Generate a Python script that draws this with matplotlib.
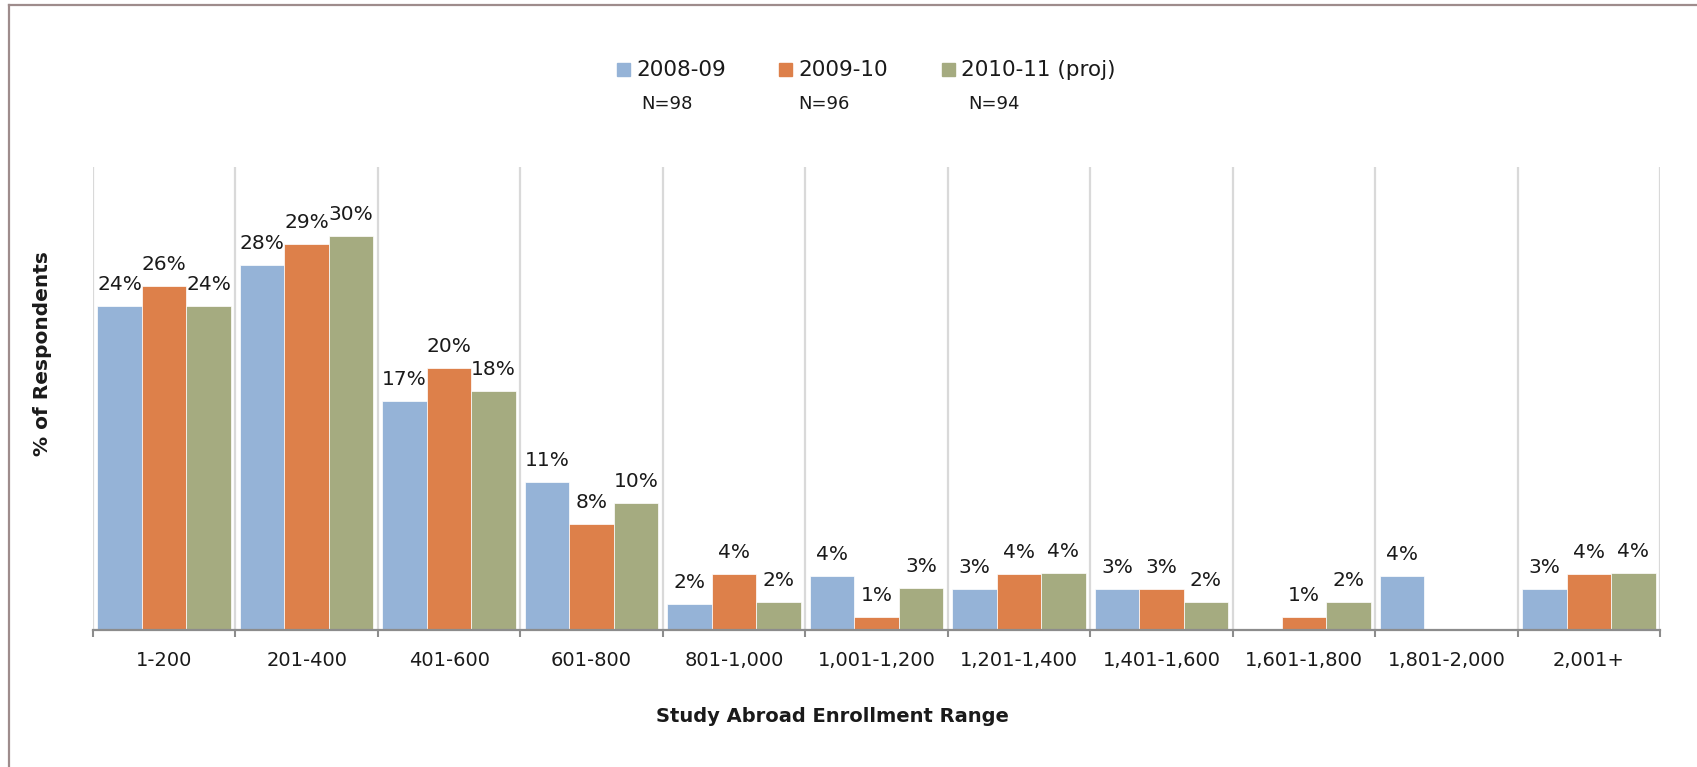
import matplotlib.pyplot as plt
import numpy as np
from matplotlib.lines import Line2D
from matplotlib.patches import Rectangle

plt.rcParams["font.family"] = ["DejaVu Sans"]

categories = ["1-200", "201-400", "401-600", "601-800", "801-1,000", "1,001-1,200",
              "1,201-1,400", "1,401-1,600", "1,601-1,800", "1,801-2,000", "2,001+"]
series_names = ["2008-09", "2009-10", "2010-11 (proj)"]
sample_sizes = ["N=98", "N=96", "N=94"]
pct_2008 = [24.49, 27.6, 17.3, 11.2, 2.0, 4.1, 3.1, 3.1, 0.0, 4.1, 3.1]
pct_2009 = [26.0, 29.2, 19.8, 8.0, 4.2, 1.0, 4.2, 3.1, 1.0, 0.0, 4.2]
pct_2010 = [24.47, 29.8, 18.1, 9.6, 2.1, 3.2, 4.3, 2.1, 2.1, 0.0, 4.3]
colors = ["#95B3D7", "#DD804A", "#A5AB80"]

W, H = 1697, 767
fig = plt.figure(figsize=(W / 100, H / 100), dpi=100)
ax = fig.add_axes([93 / W, 1 - 630 / H, (1660 - 93) / W, (630 - 167) / H])

x = np.arange(len(categories))
bar_w = 0.3125
for i, values in enumerate([pct_2008, pct_2009, pct_2010]):
    xs = x + (i - 1) * bar_w
    ax.bar(xs, values, width=bar_w, color=colors[i], edgecolor="white",
           linewidth=0.5, zorder=2)
    for xi, v in zip(xs, values):
        if v > 0:
            ax.annotate(f"{v:.0f}%", (xi, v), xytext=(0, 11.5),
                        textcoords="offset points", ha="center", va="baseline",
                        fontsize=14.5, color="#1a1a1a")

ax.set_xlim(-0.5, len(categories) - 0.5)
ax.set_ylim(0, 35)
ax.set_yticks([])
for side in ["top", "right", "left"]:
    ax.spines[side].set_visible(False)
ax.spines["bottom"].set_color("#8c8c8c")
ax.spines["bottom"].set_linewidth(1.6)

# vertical gridlines at category boundaries
bounds = np.arange(len(categories) + 1) - 0.5
for b in bounds:
    ax.axvline(b, color="#d9d9d9", linewidth=1.6, zorder=1)

ax.set_xticks(x)
ax.set_xticklabels(categories, fontsize=14, color="#1a1a1a")
ax.tick_params(axis="x", which="major", length=0, pad=15)
ax.set_xticks(bounds, minor=True)
ax.tick_params(axis="x", which="minor", length=5, width=1.5, color="#8c8c8c",
               direction="out")

fig.text(832 / W, 1 - 716 / H, "Study Abroad Enrollment Range", ha="center",
         va="center", fontsize=14, fontweight="bold", color="#1a1a1a")
fig.text(43 / W, 1 - 354 / H, "% of Respondents", ha="center", va="center",
         rotation=90, fontsize=14.5, fontweight="bold", color="#1a1a1a")

# legend with sample sizes underneath
legend_x = [617, 779, 942]
n_x = [667, 824, 994]
for i, name in enumerate(series_names):
    fig.add_artist(Rectangle((legend_x[i] / W, 1 - 76 / H), 13 / W, 13 / H,
                             transform=fig.transFigure, color=colors[i]))
    fig.text((legend_x[i] + 19) / W, 1 - 70 / H, name, ha="left", va="center",
             fontsize=15.5, color="#1a1a1a")
    fig.text(n_x[i] / W, 1 - 104 / H, sample_sizes[i], ha="center", va="center",
             fontsize=13, color="#1a1a1a")

# chart frame (top and left edges)
frame_color = "#9e8c8c"
fig.add_artist(Line2D([9 / W, 1], [1 - 5 / H, 1 - 5 / H], color=frame_color,
                      linewidth=1.6, transform=fig.transFigure))
fig.add_artist(Line2D([9 / W, 9 / W], [0, 1 - 5 / H], color=frame_color,
                      linewidth=1.6, transform=fig.transFigure))

fig.savefig("out.png", dpi=100, facecolor="white")
